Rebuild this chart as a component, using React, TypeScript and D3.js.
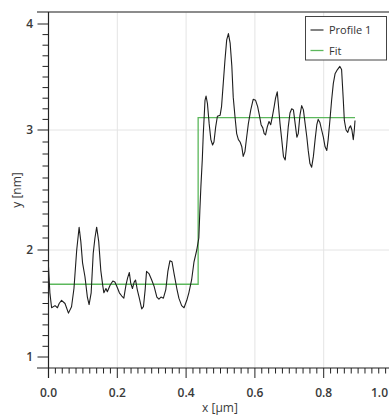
import React from "react";
import * as d3 from "d3";

const profileX = [0.0, 0.004, 0.009, 0.019, 0.026, 0.031, 0.038, 0.048, 0.058, 0.067, 0.074, 0.082, 0.089, 0.094, 0.099, 0.106, 0.113, 0.118, 0.124, 0.130, 0.135, 0.140, 0.146, 0.152, 0.158, 0.161, 0.167, 0.171, 0.179, 0.187, 0.193, 0.200, 0.206, 0.213, 0.219, 0.225, 0.230, 0.235, 0.239, 0.244, 0.249, 0.253, 0.258, 0.264, 0.271, 0.276, 0.281, 0.285, 0.292, 0.300, 0.307, 0.315, 0.321, 0.327, 0.334, 0.341, 0.347, 0.353, 0.359, 0.365, 0.373, 0.379, 0.387, 0.394, 0.402, 0.408, 0.416, 0.423, 0.431, 0.437, 0.440, 0.443, 0.447, 0.450, 0.455, 0.458, 0.462, 0.467, 0.472, 0.477, 0.481, 0.486, 0.491, 0.499, 0.503, 0.508, 0.513, 0.518, 0.523, 0.528, 0.533, 0.537, 0.542, 0.547, 0.552, 0.557, 0.562, 0.566, 0.571, 0.576, 0.581, 0.588, 0.595, 0.602, 0.608, 0.613, 0.618, 0.623, 0.627, 0.631, 0.636, 0.641, 0.646, 0.651, 0.656, 0.660, 0.665, 0.668, 0.673, 0.678, 0.683, 0.688, 0.692, 0.697, 0.702, 0.707, 0.712, 0.717, 0.722, 0.726, 0.731, 0.736, 0.741, 0.746, 0.751, 0.755, 0.760, 0.765, 0.770, 0.775, 0.780, 0.784, 0.789, 0.794, 0.799, 0.804, 0.809, 0.813, 0.818, 0.823, 0.828, 0.833, 0.840, 0.847, 0.852, 0.857, 0.860, 0.865, 0.870, 0.874, 0.878, 0.882, 0.886, 0.889, 0.891];
const profileY = [1.84, 1.60, 1.46, 1.48, 1.46, 1.50, 1.53, 1.50, 1.41, 1.47, 1.64, 2.0, 2.19, 2.07, 1.88, 1.75, 1.56, 1.49, 1.60, 1.97, 2.10, 2.19, 2.07, 1.81, 1.66, 1.60, 1.64, 1.61, 1.67, 1.71, 1.70, 1.65, 1.60, 1.57, 1.55, 1.67, 1.74, 1.79, 1.69, 1.64, 1.70, 1.72, 1.63, 1.55, 1.45, 1.47, 1.63, 1.80, 1.78, 1.72, 1.66, 1.56, 1.54, 1.56, 1.55, 1.63, 1.80, 1.90, 1.89, 1.78, 1.64, 1.55, 1.48, 1.46, 1.53, 1.60, 1.72, 1.89, 2.0, 2.10, 2.33, 2.53, 2.75, 2.97, 3.28, 3.32, 3.25, 3.06, 2.92, 2.875, 2.90, 3.03, 3.13, 3.14, 3.22, 3.44, 3.66, 3.85, 3.91, 3.82, 3.60, 3.31, 3.13, 2.97, 2.92, 2.90, 2.86, 2.78, 2.82, 2.94, 3.06, 3.19, 3.29, 3.28, 3.22, 3.14, 3.05, 3.02, 2.97, 2.96, 3.03, 3.08, 3.05, 3.13, 3.22, 3.30, 3.36, 3.25, 3.06, 2.92, 2.78, 2.75, 2.86, 3.03, 3.16, 3.20, 3.19, 3.06, 2.94, 2.97, 3.14, 3.23, 3.19, 3.06, 2.94, 2.83, 2.72, 2.69, 2.78, 2.92, 3.05, 3.10, 3.07, 3.0, 2.94, 2.86, 2.83, 2.92, 3.09, 3.28, 3.44, 3.53, 3.57, 3.60, 3.57, 3.28, 3.09, 3.0, 2.98, 3.02, 3.04, 3.0, 2.92, 3.0, 3.09];

const fitX = [0, 0.435, 0.891];
const fitY = [1.68, 3.116, 3.116];

const xTickValues = [0, 0.2, 0.4, 0.6, 0.8, 1.0];
const xTickLabels = ["0.0", "0.2", "0.4", "0.6", "0.8", "1.0"];
const yTickValues = [1, 2, 3, 4];
const yTickLabels = ["1", "2", "3", "4"];
const legendLabels = ["Profile 1", "Fit"];
const xTitle = "x [µm]";
const yTitle = "y [nm]";

export default function App() {
  const W = 389, H = 416;
  const left = 48.5, top = 12, bottom = 368;
  const x = d3.scaleLinear().domain([0, 1]).range([left, 392.5]);
  const y = d3.scaleLinear().domain([1, 2, 3, 4]).range([357, 250, 130, 24]);

  const profile = profileX.map((v, i) => [v, profileY[i]] as [number, number]);
  const fit = fitX.map((v, i) => [v, fitY[i]] as [number, number]);
  const line = d3.line<[number, number]>().x(d => x(d[0])).y(d => y(d[1]));
  const stepLine = d3.line<[number, number]>().x(d => x(d[0])).y(d => y(d[1])).curve(d3.curveStepAfter);

  const xMinor = d3.range(0, 51).map(i => i * 0.02);
  const yMinor = d3.range(10, 41).map(i => i / 10);
  const font = "'Open Sans', 'DejaVu Sans', sans-serif";

  return (
    <svg width={W} height={H} style={{ position: "absolute", left: 0, top: 0, display: "block" }}>
      <rect x={0} y={0} width={W} height={H} fill="#fff" />
      {[0.2, 0.4, 0.6, 0.8].map(v => (
        <line key={"gx" + v} x1={x(v)} x2={x(v)} y1={top} y2={bottom} stroke="#e4e4e4" strokeWidth={1} />
      ))}
      {[2, 3].map(v => (
        <line key={"gy" + v} x1={left} x2={W} y1={y(v)} y2={y(v)} stroke="#e4e4e4" strokeWidth={1} />
      ))}
      <path d={stepLine(fit) || ""} fill="none" stroke="#5cb85c" strokeWidth={1.3} />
      <path d={line(profile) || ""} fill="none" stroke="#1e1e1e" strokeWidth={1.1} strokeLinejoin="round" />
      <line x1={37} x2={W} y1={top} y2={top} stroke="#666" strokeWidth={1.6} />
      <line x1={37} x2={W} y1={bottom} y2={bottom} stroke="#222" strokeWidth={1.2} />
      <line x1={left} x2={left} y1={top} y2={378} stroke="#222" strokeWidth={1.2} />
      {xMinor.map((v, i) => {
        const major = i % 10 === 0;
        return <line key={"xt" + i} x1={x(v)} x2={x(v)} y1={bottom} y2={bottom + (major ? 10 : 5.5)} stroke="#222" strokeWidth={1} />;
      })}
      {xTickValues.map((v, i) => {
        const last = x(v) + 10 > W;
        return (
          <text key={"xl" + i} x={last ? W - 1 : x(v)} y={396.5} textAnchor={last ? "end" : "middle"} fontFamily={font} fontSize={12} fontWeight={600} fill="#3a3a3a">{xTickLabels[i]}</text>
        );
      })}
      {yMinor.map((v, i) => {
        const major = i % 10 === 0;
        return <line key={"yt" + i} x1={left - (major ? 11 : 6)} x2={left} y1={y(v)} y2={y(v)} stroke="#222" strokeWidth={1} />;
      })}
      {yTickValues.map((v, i) => (
        <text key={"yl" + i} x={33} y={y(v) + 4} textAnchor="end" fontFamily={font} fontSize={12} fontWeight={600} fill="#3a3a3a">{yTickLabels[i]}</text>
      ))}
      <text x={220} y={412} textAnchor="middle" fontFamily={font} fontSize={12} fill="#3a3a3a">{xTitle}</text>
      <text transform={`translate(21,190) rotate(-90)`} textAnchor="middle" fontFamily={font} fontSize={12} fill="#3a3a3a">{yTitle}</text>
      <rect x={305.5} y={16.5} width={81} height={43.5} fill="#fff" stroke="#444" strokeWidth={1} />
      <line x1={310.5} x2={323.5} y1={30} y2={30} stroke="#1e1e1e" strokeWidth={1.1} />
      <text x={329} y={34} fontFamily={font} fontSize={11} fill="#333">{legendLabels[0]}</text>
      <line x1={310.5} x2={323.5} y1={50.5} y2={50.5} stroke="#5cb85c" strokeWidth={1.3} />
      <text x={329} y={54.5} fontFamily={font} fontSize={11} fill="#333">{legendLabels[1]}</text>
    </svg>
  );
}
